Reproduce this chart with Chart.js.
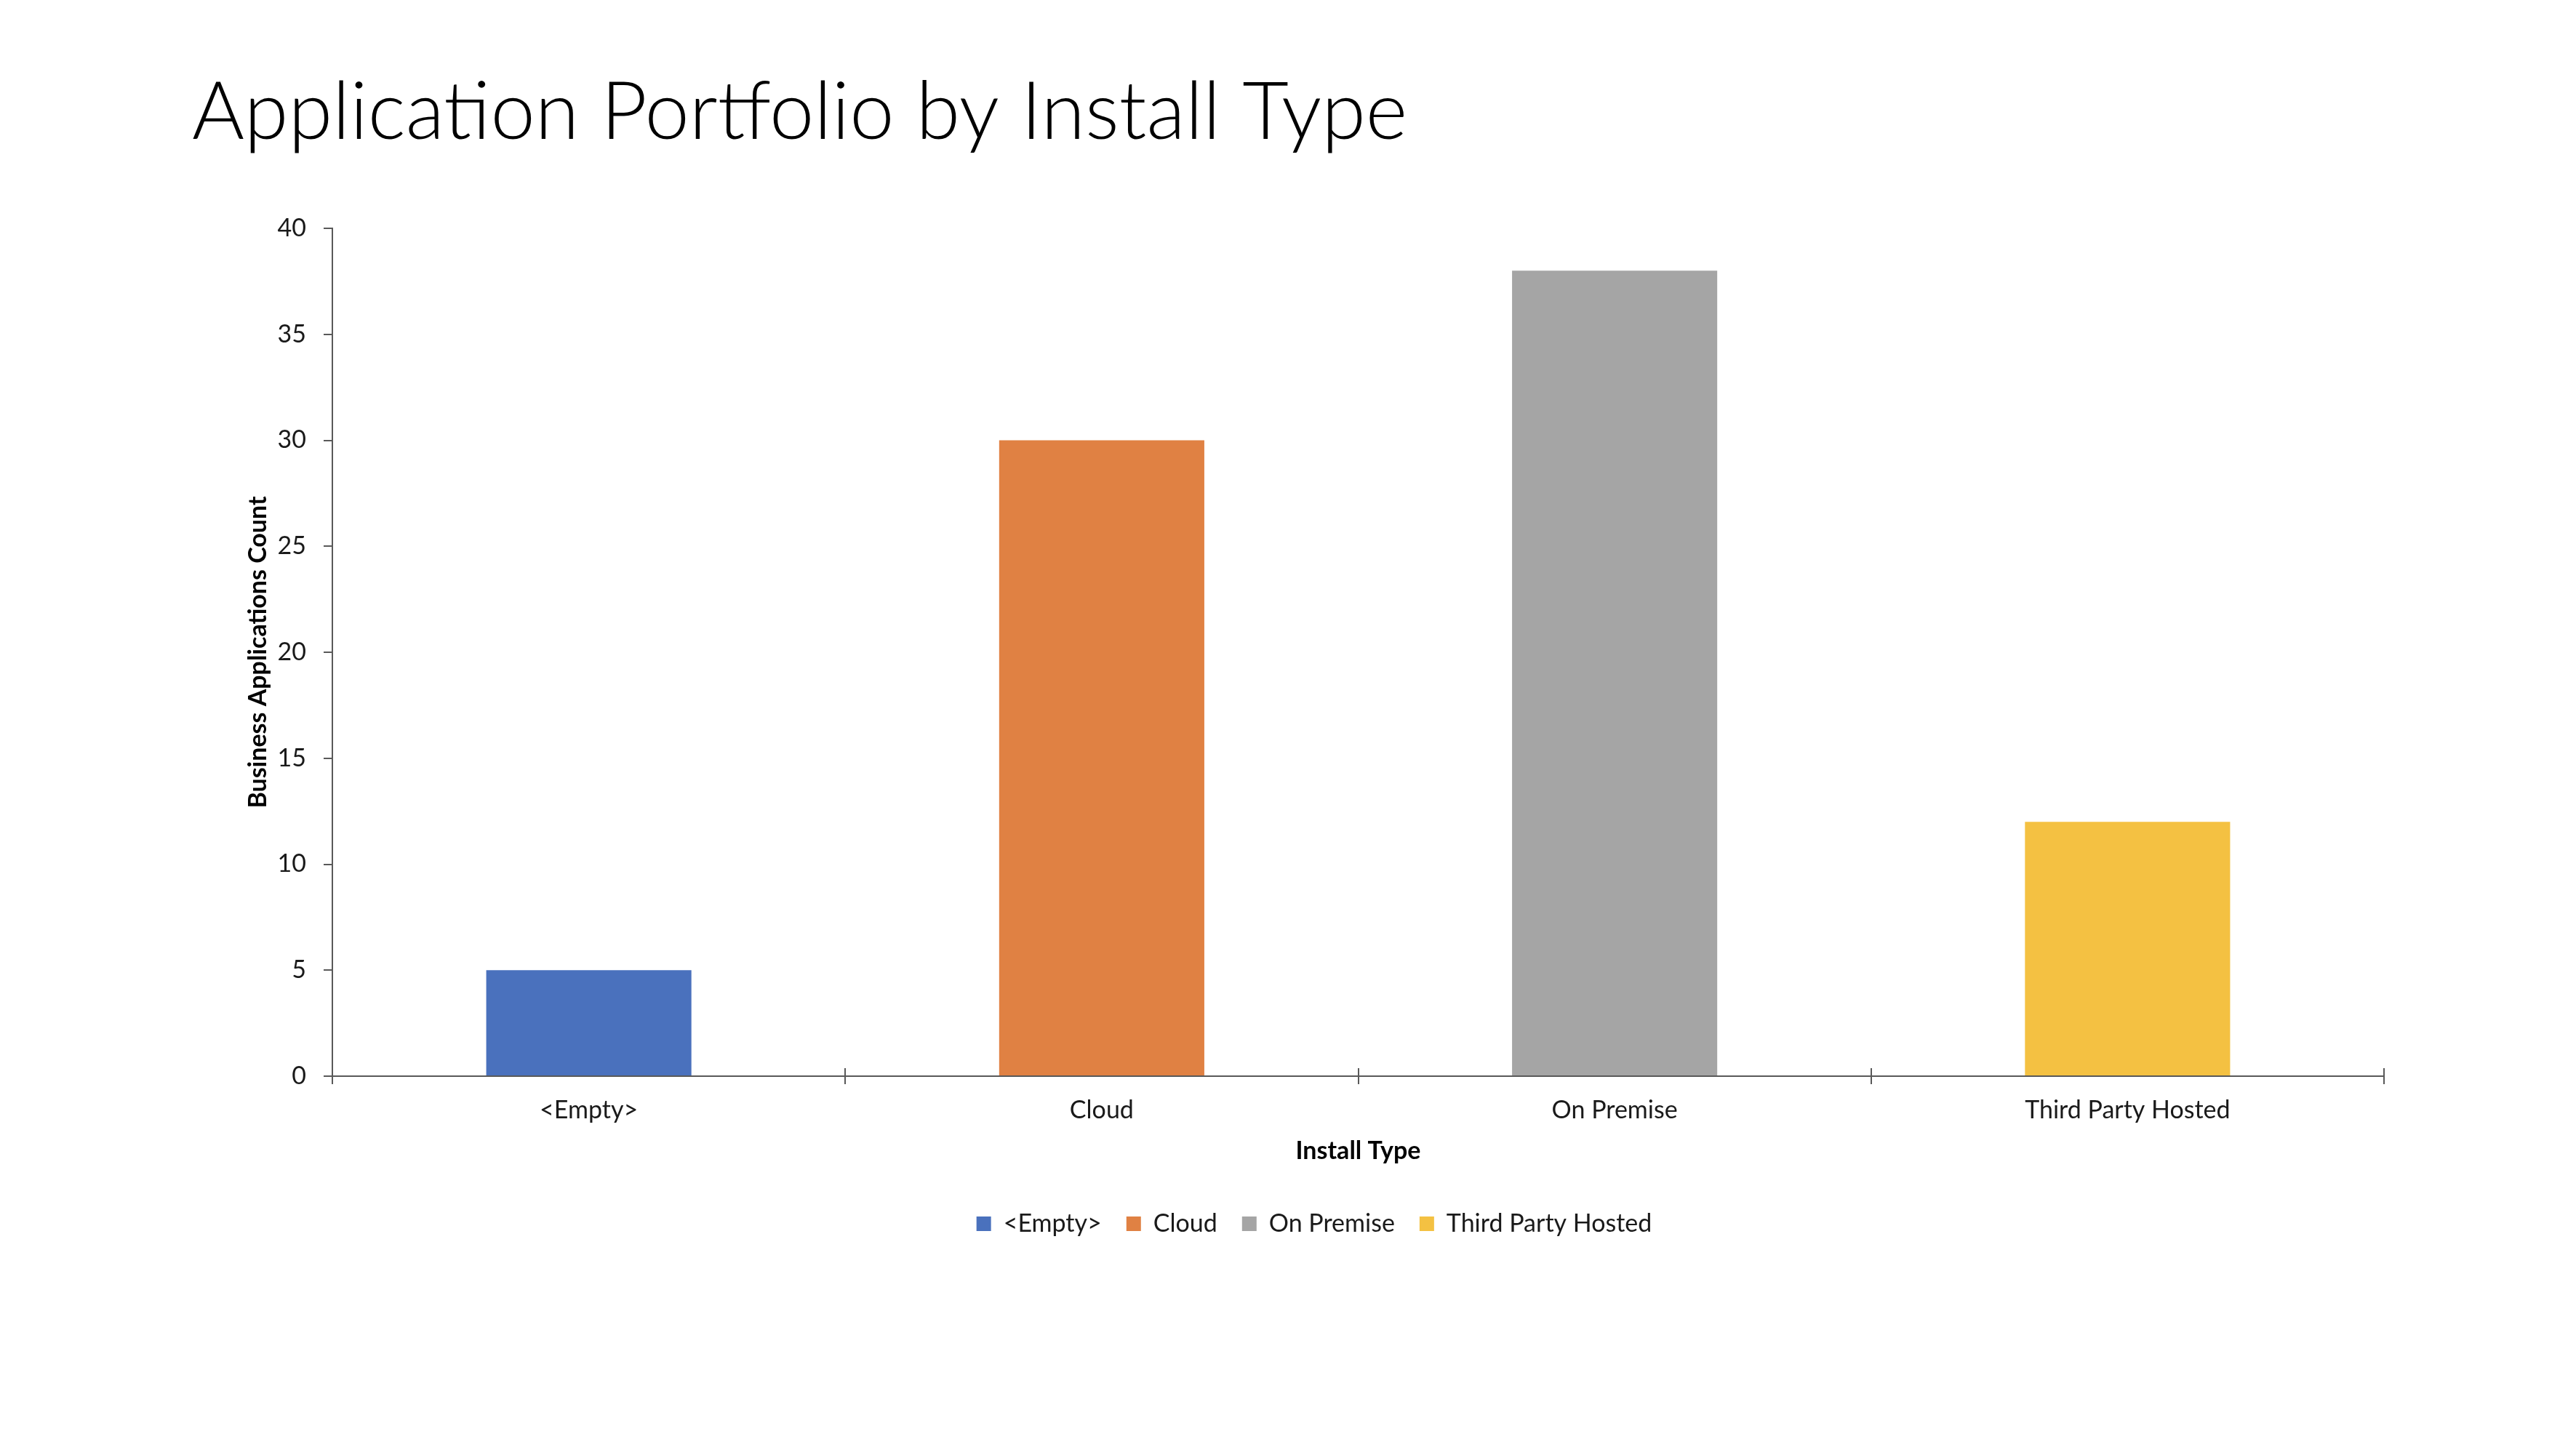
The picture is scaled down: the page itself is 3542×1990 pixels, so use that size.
<!DOCTYPE html>
<html>
<head>
<meta charset="utf-8">
<title>Application Portfolio by Install Type</title>
<script src="https://cdn.jsdelivr.net/npm/chart.js@4.4.1/dist/chart.umd.min.js"></script>
<style>
    html, body { margin: 0; padding: 0; background: #fff; }
    #wrap { width: 3542px; height: 1990px; position: relative; }
</style>
</head>
<body>
<div id="wrap"><canvas id="installChart"></canvas></div>
<script>
// Chart data
const installTypes = ['<Empty>', 'Cloud', 'On Premise', 'Third Party Hosted'];
const appCounts = [5, 30, 38, 12];
const barColors = ['#4a71bd', '#e08143', '#a5a5a5', '#f4c142'];
const yTicks = [0, 5, 10, 15, 20, 25, 30, 35, 40];

const axisColor = '#595959';
const textColor = '#1a1a1a';
const fontFamily = 'Lato, "Open Sans", sans-serif';

// Excel style ticks that cross the x axis (upper half)
const crossTicks = {
    id: 'crossTicks',
    afterDatasetsDraw(chart) {
        const x = chart.scales.x;
        const half = (x.getPixelForValue(1) - x.getPixelForValue(0)) / 2;
        const ctx = chart.ctx;
        const bottom = chart.chartArea.bottom;
        ctx.save();
        ctx.strokeStyle = axisColor;
        ctx.lineWidth = 2;
        for (let i = 0; i <= installTypes.length; i++) {
            const px = Math.round(x.getPixelForValue(0) - half + i * half * 2);
            ctx.beginPath();
            ctx.moveTo(px, bottom - 11);
            ctx.lineTo(px, bottom);
            ctx.stroke();
        }
        ctx.restore();
    }
};

// legend sits a little right of the page centre and close under the axis title
const legendNudge = {
    id: 'legendNudge',
    afterLayout(chart) {
        chart.legend.left += 72;
        chart.legend.top -= 26;
        chart.legend.bottom -= 26;
    }
};

new Chart(document.getElementById('installChart'), {
    type: 'bar',
    data: {
        labels: installTypes,
        datasets: [{
            label: 'Business Applications Count',
            data: appCounts,
            backgroundColor: barColors,
            borderWidth: 0,
            barPercentage: 1,
            categoryPercentage: 0.4
        }]
    },
    options: {
        responsive: true,
        maintainAspectRatio: false,
        animation: false,
        layout: { padding: { left: 264, right: 264, top: 0, bottom: 254 } },
        plugins: {
            title: {
                display: true,
                text: 'Application Portfolio by Install Type',
                align: 'start',
                color: '#000',
                font: { family: fontFamily, size: 110, weight: 300, lineHeight: 1.2 },
                padding: { top: 90, bottom: 92 }
            },
            legend: {
                position: 'bottom',
                labels: {
                    color: textColor,
                    font: { family: fontFamily, size: 34 },
                    boxWidth: 20,
                    boxHeight: 20,
                    padding: 34,
                    generateLabels: chart => chart.data.labels.map((l, i) => ({
                        text: l,
                        fillStyle: barColors[i],
                        strokeStyle: barColors[i],
                        lineWidth: 0,
                        hidden: false,
                        index: i,
                        fontColor: textColor
                    }))
                }
            },
            tooltip: { enabled: false }
        },
        scales: {
            x: {
                afterFit: scale => { scale.height = 178; },
                grid: {
                    display: true,
                    offset: true,
                    drawOnChartArea: false,
                    drawTicks: true,
                    tickLength: 11,
                    color: axisColor,
                    lineWidth: 2
                },
                border: { color: axisColor, width: 2 },
                ticks: {
                    color: textColor,
                    font: { family: fontFamily, size: 34 },
                    padding: 16,
                    maxRotation: 0
                },
                title: {
                    display: true,
                    text: 'Install Type',
                    color: '#000',
                    font: { family: fontFamily, size: 34, weight: 'bold' },
                    padding: { top: 16, bottom: 55 }
                }
            },
            y: {
                min: yTicks[0],
                max: yTicks[yTicks.length - 1],
                afterFit: scale => { scale.width = 193; },
                afterBuildTicks: scale => { scale.ticks = yTicks.map(v => ({ value: v })); },
                grid: {
                    display: true,
                    drawOnChartArea: false,
                    drawTicks: true,
                    tickLength: 12,
                    color: axisColor,
                    lineWidth: 2
                },
                border: { color: axisColor, width: 2 },
                ticks: {
                    color: textColor,
                    font: { family: fontFamily, size: 34 },
                    padding: 24
                },
                title: {
                    display: true,
                    text: 'Business Applications Count',
                    color: '#000',
                    font: { family: fontFamily, size: 34, weight: 'bold' },
                    padding: { top: 71, bottom: 0 }
                }
            }
        }
    },
    plugins: [crossTicks, legendNudge]
});
</script>
</body>
</html>
